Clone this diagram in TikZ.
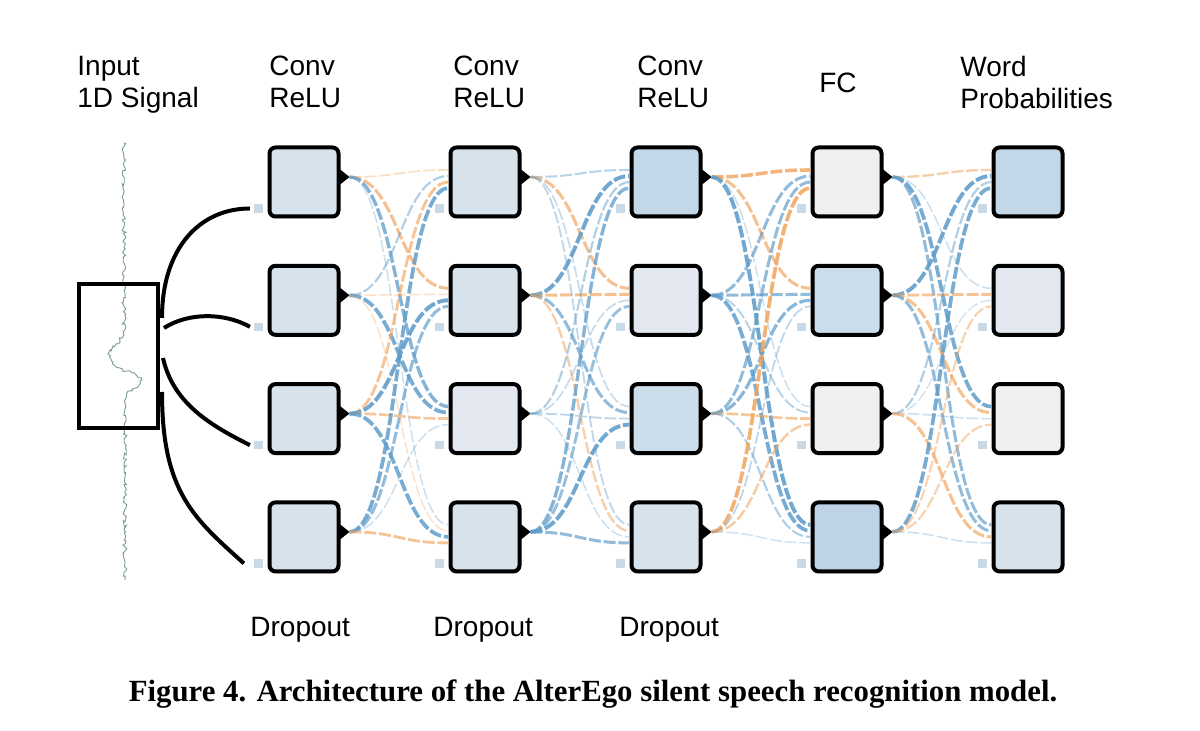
\documentclass[tikz,border=0pt]{standalone}
\usepackage{fontspec}
\setmainfont{Liberation Sans}
\newfontfamily\capfont{Liberation Serif}
\usetikzlibrary{positioning,calc,shadows,decorations.pathmorphing}

\definecolor{nA}{HTML}{D6E2EC}
\definecolor{nB}{HTML}{C2D7E8}
\definecolor{nC}{HTML}{E3E8F0}
\definecolor{nD}{HTML}{EEEFEF}
\definecolor{nE}{HTML}{CBDCEA}
\definecolor{nF}{HTML}{BED4E6}
\definecolor{wpos}{HTML}{5E9CC9}
\definecolor{wneg}{HTML}{F0A35C}
\definecolor{sqc}{HTML}{C9D9E6}
\definecolor{sig}{HTML}{7C9C92}

\tikzset{
  unit/.style={draw=black,line width=2pt,rounded corners=3pt,minimum size=34.5pt,inner sep=0pt,
    drop shadow={opacity=0.18,shadow xshift=0pt,shadow yshift=-1.2pt}},
  dropsq/.style={fill=sqc,minimum size=4.2pt,inner sep=0pt},
  link/.style={dash pattern=on 6pt off 1.4pt},
  wire/.style={line width=2pt},
  lbl/.style={font=\fontsize{14}{16}\selectfont,align=left,inner sep=0pt}
}

% weights layer by layer, source row by source row
\def\weights{{-0.2,-0.6,0.7,0.15, 0.35,-0.15,0.8,-0.15, -0.55,0.85,-0.5,0.8, 0.8,0.6,0.15,-0.55,
 0.3,-0.6,0.2,0.25, 0.85,-0.6,0.6,-0.4, 0.35,0.2,0.25,0.15, 0.7,0.55,0.85,0.6,
 -0.75,-0.6,0.15,0.85, 0.6,0.6,0.3,0.8, 0.6,0.65,-0.5,0.35, -0.8,0.25,-0.45,0.12,
 -0.4,0.15,0.8,0.6, 0.85,-0.55,-0.6,0.6, 0.35,0.12,0.15,-0.6, 0.8,-0.35,-0.35,0.15}}

\begin{document}
\begin{tikzpicture}[x=0.5pt,y=-0.5pt]
    \useasboundingbox (0,0) rectangle (1200,731);
    % input signal
    \draw[sig,line width=0.45pt,decorate,decoration={random steps,segment length=1.2pt,amplitude=1pt}]
      (124,143) -- (124,335) -- (116,344) -- (108,354) -- (113,362) -- (120,368) -- (132,373)
      -- (142,380) -- (138,387) -- (127,393) -- (125,400) -- (125,580);
    \node[draw,line width=2pt,minimum width=39.5pt,minimum height=72pt,inner sep=0pt](in) at (118.5,356){};
    % units
    \foreach \l/\ca/\cb/\cc/\cd in {1/A/A/A/A,2/A/A/C/A,3/B/C/E/A,4/D/E/D/F,5/B/C/D/A}
      \foreach \r/\c in {1/\ca,2/\cb,3/\cc,4/\cd}{
        \node[unit,fill=n\c](n-\l-\r) at ({304+181*(\l-1)},{182+118.3*(\r-1)}){};
        \node[dropsq](d-\l-\r) at ($(n-\l-\r.south west)+(-9,-10)$){};
      }
    \foreach \l in {1,...,4}
      \foreach \r in {1,...,4}{
        \coordinate(o-\l-\r) at ($(n-\l-\r.east)+(9,-5)$);
        \fill ($(n-\l-\r.east)+(-1,-13)$) -- (o-\l-\r) -- ($(n-\l-\r.east)+(-1,3)$) -- cycle;
      }
    % weighted links
    \foreach \l in {1,...,4}
      \foreach \s in {1,...,4}
        \foreach \t in {1,...,4}{
          \pgfmathtruncatemacro\m{\l+1}
          \pgfmathsetmacro\w{\weights[16*(\l-1)+4*(\s-1)+\t-1]}
          \pgfmathsetmacro\a{abs(\w)}
          \pgfmathsetmacro\lw{0.5+1.7*\a}
          \pgfmathsetmacro\op{0.2+0.8*\a}
          \pgfmathsetmacro\off{-12+6*(\s-1)}
          \ifdim\w pt<0pt \def\wc{wneg}\else\def\wc{wpos}\fi
          \draw[link,draw=\wc,line width=\lw pt,draw opacity=\op](o-\l-\s)
            .. controls +(50,0) and +(-50,0) .. ($(n-\m-\t.west)+(0,\off)$);
        }
    % input wires
    \draw[wire]($(in.east)+(2,-38)$) .. controls +(0,-70) and +(-50,0) .. ([xshift=-2pt]d-1-1.west);
    \draw[wire]($(in.east)+(4,-28)$) .. controls +(25,-16) and +(-25,-14) .. ([xshift=-2pt]d-1-2.west);
    \draw[wire]($(in.east)+(3,2)$) .. controls +(10,45) and +(-40,-20) .. ([xshift=-2pt]d-1-3.west);
    \draw[wire]($(in.east)+(2,36)$) .. controls +(0,100) and +(-50,-45) .. ([xshift=-5pt]d-1-4.west);
    % labels
    \node[lbl,anchor=north west](tin) at (77,56){Input\\1D Signal};
    \node[lbl,anchor=north west](tc1) at (269,56){Conv\\ReLU};
    \node[lbl,anchor=north west](tc2) at (453,56){Conv\\ReLU};
    \node[lbl,anchor=north west](tc3) at (637,56){Conv\\ReLU};
    \node[lbl](tfc) at (838,83){FC};
    \node[lbl,anchor=north west](tw) at (960,56){Word\\Probabilities};
    \node[lbl,anchor=base west](dr1) at (250,637){Dropout};
    \node[lbl,anchor=base west](dr2) at (433,637){Dropout};
    \node[lbl,anchor=base west](dr3) at (619,637){Dropout};
    \node[font=\capfont\bfseries\fontsize{15.4}{18}\selectfont,anchor=base,inner sep=0pt](cap) at (593,702)
      {Figure 4. Architecture of the AlterEgo silent speech recognition model.};
\end{tikzpicture}
\end{document}
